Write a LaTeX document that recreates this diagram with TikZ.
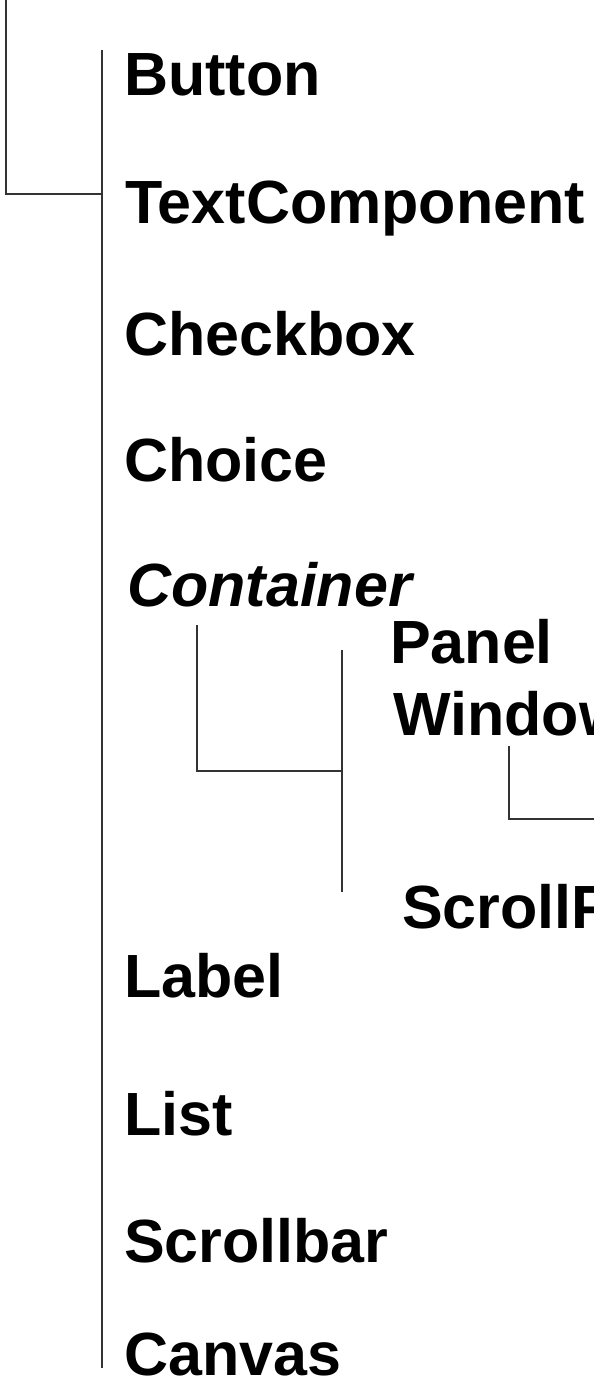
\documentclass[tikz,border=0pt]{standalone}
\usepackage{fontspec}
\setmainfont{Liberation Sans}
\begin{document}
\begin{tikzpicture}[x=1pt,y=-1pt]
    \tikzstyle{every node}+=[inner sep=0pt, anchor=base west, font=\fontsize{61}{72}\selectfont\bfseries]
    \tikzstyle{branch}=[black!80, line width=2.2pt]
    \useasboundingbox (0,0) rectangle (594,1385);
    \clip (0,0) rectangle (594,1385);
    % class names
    \draw (124,95) node (button) {Button};
    \draw (125,223) node (textcomp) {TextComponent};
    \draw (124,355) node (checkbox) {Checkbox};
    \draw (124,481) node (choice) {Choice};
    \draw (127,606) node (container) {\itshape Container};
    \draw (390,663) node (panel) {Panel};
    \draw (393,735) node (window) {Window};
    \draw (402,928) node (scrollpane) {ScrollPane};
    \draw (124,997) node (label) {Label};
    \draw (124,1135) node (list) {List};
    \draw (124,1262) node (scrollbar) {Scrollbar};
    \draw (124,1375) node [text depth=0pt] (canvas) {Canvas};
    % tree lines
    \coordinate (awt) at (6,0);
    \coordinate (fork) at (102,194);
    \coordinate (trunktop) at (102,50);
    \coordinate (trunkend) at (102,1368);
    \draw [branch] (awt) |- (fork);
    \draw [branch] (trunktop) -- (trunkend);
    \coordinate (contdrop) at (197,625);
    \coordinate (contfork) at (342,771);
    \coordinate (subtop) at (342,650);
    \coordinate (subend) at (342,892);
    \draw [branch] (contdrop) |- (contfork);
    \draw [branch] (subtop) -- (subend);
    \coordinate (windrop) at (509,746);
    \coordinate (winfork) at (594,819);
    \draw [branch] (windrop) |- (winfork);
\end{tikzpicture}
\end{document}
